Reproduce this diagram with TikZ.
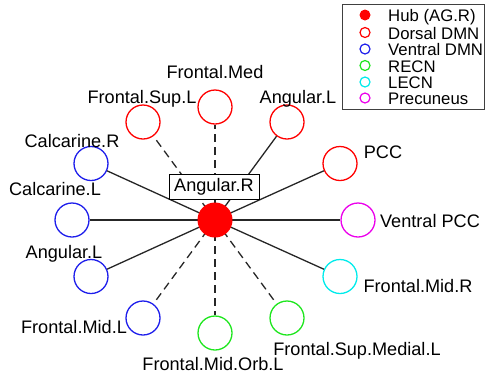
\documentclass[tikz,border=0pt]{standalone}
\usepackage{fontspec}
\setmainfont{Liberation Sans}
\definecolor{dred}{RGB}{255,0,0}
\definecolor{vblue}{RGB}{30,30,235}
\definecolor{rgreen}{RGB}{30,230,30}
\definecolor{lcyan}{RGB}{0,235,235}
\definecolor{pmag}{RGB}{235,0,235}
\begin{document}
\begin{tikzpicture}[x=1bp,y=-1bp,
  roi/.style={circle, draw, line width=1.3bp, minimum size=34bp, inner sep=0pt},
  lbl/.style={font=\fontsize{18.2}{18}\selectfont, inner sep=0pt, anchor=base},
  leg/.style={font=\fontsize{16.8}{17}\selectfont, inner sep=0pt, anchor=base west},
  legmark/.style={circle, draw, line width=1.2bp, minimum size=10bp, inner sep=0pt},
  link/.style={draw=black!85, line width=1.3bp},
  dlink/.style={link, dash pattern=on 8bp off 5bp}]
\useasboundingbox (0,0) rectangle (487,378);
% nodes
\coordinate (c) at (215,220);
\node[roi, draw=dred]   (fmed)  at (215,107) {};
\node[roi, draw=dred]   (angr)  at (287,122) {};
\node[roi, draw=dred]   (pcc)   at (340,163.5) {};
\node[roi, draw=pmag]   (vpcc)  at (358,220) {};
\node[roi, draw=lcyan]  (fmidr) at (340,276.5) {};
\node[roi, draw=rgreen] (fsml)  at (287,318) {};
\node[roi, draw=rgreen] (fmol)  at (215,333) {};
\node[roi, draw=vblue]  (fmidl) at (143,318) {};
\node[roi, draw=vblue]  (angl)  at (91,276.5) {};
\node[roi, draw=vblue]  (calcl) at (72,220) {};
\node[roi, draw=vblue]  (calcr) at (91,163.5) {};
\node[roi, draw=dred]   (fsupl) at (143,122) {};
% links
\draw[dlink] (c) -- (fmed);
\draw[link]  (c) -- (angr);
\draw[link]  (c) -- (pcc);
\draw[link]  (c) -- (vpcc);
\draw[link]  (c) -- (fmidr);
\draw[dlink] (c) -- (fsml);
\draw[dlink] (c) -- (fmol);
\draw[dlink] (c) -- (fmidl);
\draw[link]  (c) -- (angl);
\draw[link]  (c) -- (calcl);
\draw[link]  (c) -- (calcr);
\draw[dlink] (c) -- (fsupl);
% hub
\node[circle, fill=dred, minimum size=35bp, inner sep=0pt] (hub) at (c) {};
\node[draw=black, line width=1bp, fill=white, minimum width=90bp, minimum height=25bp,
      inner sep=0pt, text height=13bp, text depth=3bp,
      font=\fontsize{18.2}{18}\selectfont] (hublbl) at (214,186.5) {Angular.R};
% labels
\node[lbl] (lfmed)  at (215,78)  {Frontal.Med};
\node[lbl] (langr)  at (298,103) {Angular.L};
\node[lbl] (lpcc)   at (383,158) {PCC};
\node[lbl] (lvpcc)  at (430,227) {Ventral PCC};
\node[lbl] (lfmidr) at (418,292) {Frontal.Mid.R};
\node[lbl] (lfsml)  at (357,355) {Frontal.Sup.Medial.L};
\node[lbl] (lfmol)  at (213,370) {Frontal.Mid.Orb.L};
\node[lbl] (lfmidl) at (74,333)  {Frontal.Mid.L};
\node[lbl] (langl)  at (64,258)  {Angular.L};
\node[lbl] (lcalcl) at (55,195)  {Calcarine.L};
\node[lbl] (lcalcr) at (72,147)  {Calcarine.R};
\node[lbl] (lfsupl) at (142,103) {Frontal.Sup.L};
% legend
\draw[draw=black!75, line width=1bp] (342,4) rectangle (484,109);
\node[circle, fill=dred, minimum size=11bp, inner sep=0pt] (m1) at (365,15) {};
\node[legmark, draw=dred]   (m2) at (365,32.5) {};
\node[legmark, draw=vblue]  (m3) at (365,49) {};
\node[legmark, draw=rgreen] (m4) at (365,65.5) {};
\node[legmark, draw=lcyan]  (m5) at (365,82) {};
\node[legmark, draw=pmag]   (m6) at (365,98) {};
\node[leg] (t1) at (388,21.5) {Hub (AG.R)};
\node[leg] (t2) at (388,39)   {Dorsal DMN};
\node[leg] (t3) at (388,55.5) {Ventral DMN};
\node[leg] (t4) at (388,72)   {RECN};
\node[leg] (t5) at (388,88.5) {LECN};
\node[leg] (t6) at (388,104.5){Precuneus};
\end{tikzpicture}
\end{document}
